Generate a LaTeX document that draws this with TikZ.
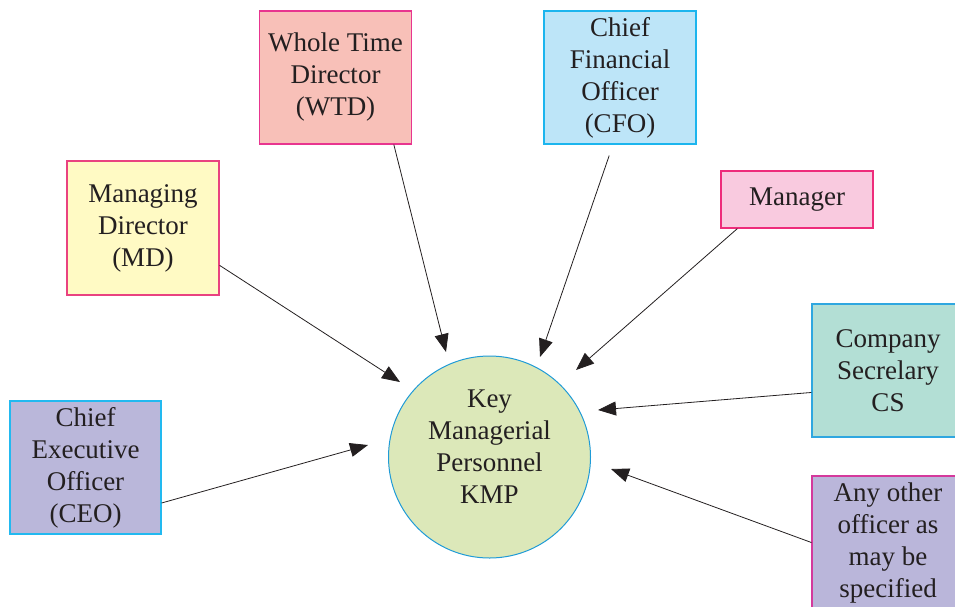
\documentclass[tikz,border=0pt]{standalone}
\usepackage{fontspec}
\setmainfont{Liberation Serif}
\usetikzlibrary{arrows.meta}
\definecolor{txt}{HTML}{231F20}
\definecolor{wtdfill}{HTML}{F8C0B8}\definecolor{wtdline}{HTML}{E8358F}
\definecolor{cfofill}{HTML}{BDE5F8}\definecolor{cfoline}{HTML}{1CB5EE}
\definecolor{mdfill}{HTML}{FFFAC4}\definecolor{mdline}{HTML}{E94280}
\definecolor{manfill}{HTML}{F9CADF}\definecolor{manline}{HTML}{EE2C7B}
\definecolor{csfill}{HTML}{B3DFD5}\definecolor{csline}{HTML}{2FA7E0}
\definecolor{anyfill}{HTML}{BAB6DA}\definecolor{anyline}{HTML}{D4399C}
\definecolor{ceofill}{HTML}{BAB7DA}\definecolor{ceoline}{HTML}{22B9F0}
\definecolor{kmpfill}{HTML}{DCE8B9}\definecolor{kmpline}{HTML}{1F9BD7}
\begin{document}
\begin{tikzpicture}[x=1pt,y=-1pt,
  role/.style={draw, line width=1.2pt, rectangle, inner sep=0pt, minimum width=152pt,
    minimum height=133pt, align=center, text=txt, font=\fontsize{27}{32}\selectfont},
  hub/.style={draw, line width=1pt, circle, inner sep=0pt, minimum size=202pt},
  hubtext/.style={inner sep=0pt, align=center, text=txt, font=\fontsize{27}{32}\selectfont},
  link/.style={draw=txt, line width=0.8pt, -{Triangle[length=18pt,width=14pt]}}]
\useasboundingbox (0,0) rectangle (955,606);
\clip (0,0) rectangle (955,606);
\node[role, fill=wtdfill, draw=wtdline] (wtd) at (335.5,77.5) {Whole Time\\Director\\(WTD)};
\node[role, fill=cfofill, draw=cfoline] (cfo) at (620,77.5) {Chief\\Financial\\Officer\\(CFO)};
\node[role, fill=mdfill, draw=mdline, minimum height=134pt] (md) at (143,228) {Managing\\Director\\(MD)};
\node[role, fill=manfill, draw=manline, minimum height=57pt] (man) at (797,199.5) {Manager};
\node[role, fill=csfill, draw=csline] (cs) at (888,370.5) {Company\\Secrelary\\CS};
\node[role, fill=anyfill, draw=anyline] (any) at (888,542.5) {Any other\\officer as\\may be\\specified};
\node[role, fill=ceofill, draw=ceoline, minimum width=151pt] (ceo) at (85.5,467.5) {Chief\\Executive\\Officer\\(CEO)};
\node[hub, fill=kmpfill, draw=kmpline] (kmp) at (489.5,457) {};
\node[hubtext] (kmptext) at ([yshift=10pt]kmp.center) {Key\\Managerial\\Personnel\\KMP};
\coordinate (tWTD) at (446,352);
\coordinate (tCFO) at (540,357);
\coordinate (tMan) at (576,370);
\coordinate (tCS) at (598,410);
\coordinate (tAny) at (611,469);
\coordinate (tMD) at (400,382);
\coordinate (tCEO) at (368,445);
\draw[link] (wtd.-49.6) -- (tWTD);
\draw[link, shorten <=11.6pt] (cfo.-96.2) -- (tCFO);
\draw[link] (man.-154.6) -- (tMan);
\draw[link] (cs.-164.2) -- (tCS);
\draw[link] (any.west) -- (tAny);
\draw[link] (md.-26.57) -- (tMD);
\draw[link] (ceo.-25.8) -- (tCEO);
\end{tikzpicture}
\end{document}
